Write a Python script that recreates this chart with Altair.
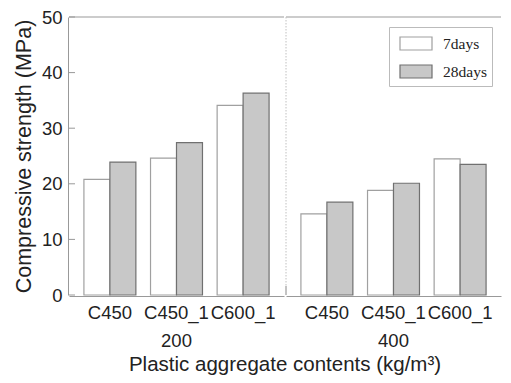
import altair as alt
import pandas as pd

mixes = ["C450", "C450_1", "C600_1"]
contents = ["200", "400"]
ages = ["7days", "28days"]
days7 = [20.8, 24.6, 34.1, 14.6, 18.8, 24.5]
days28 = [23.9, 27.4, 36.3, 16.7, 20.1, 23.5]
y_ticks = [0, 10, 20, 30, 40, 50]

rows = []
for i, c in enumerate(contents):
    for j, m in enumerate(mixes):
        k = i * 3 + j
        rows.append({"content": c, "mix": m, "age": "7days", "value": days7[k]})
        rows.append({"content": c, "mix": m, "age": "28days", "value": days28[k]})
df = pd.DataFrame(rows)

W = 215
H = 278
AX = "#999999"
TXT = "#222222"
YTITLE = "Compressive strength (MPa)"

yscale = alt.Scale(domain=[0, 50], nice=False, zero=True)

bars = alt.Chart().mark_bar(strokeWidth=1.2).encode(
    x=alt.X("mix:N", sort=mixes,
            scale=alt.Scale(paddingInner=0.22, paddingOuter=0.224),
            axis=alt.Axis(title=None, ticks=False, tickSize=0, labelPadding=7.5, labelAngle=0)),
    xOffset=alt.XOffset("age:N", sort=ages, scale=alt.Scale(domain=ages, paddingInner=0, paddingOuter=0)),
    y=alt.Y("value:Q", scale=yscale,
            axis=alt.Axis(values=y_ticks, title=YTITLE, ticks=False, tickSize=0, labelPadding=6,
                          titlePadding=6, grid=False)),
    fill=alt.Fill("age:N", sort=ages,
                  scale=alt.Scale(domain=ages, range=["#ffffff", "#c8c8c8"]),
                  legend=alt.Legend(
                      title=None, orient="none", legendX=320, legendY=10,
                      symbolType="M-0.524,-0.619H2.524V0.619H-0.524Z", symbolSize=441,
                      symbolStrokeColor="#777777", symbolStrokeWidth=1.2,
                      labelFont="Liberation Serif", labelFontSize=15.5, labelColor=TXT,
                      labelOffset=26, rowPadding=7, padding=5,
                      strokeColor="#bbbbbb", fillColor="#ffffff")),
    stroke=alt.Stroke("age:N", sort=ages,
                      scale=alt.Scale(domain=ages, range=["#a0a0a0", "#707070"]),
                      legend=None),
)

ticks_layer = alt.Chart().transform_aggregate(
    n="count()", groupby=["content"]
).transform_filter(
    alt.datum.content == contents[0]
).transform_calculate(
    t=str(y_ticks)
).transform_flatten(["t"]).mark_rule(color=AX, strokeWidth=1).encode(
    x=alt.value(0), x2=alt.value(6),
    y=alt.Y("t:Q", scale=yscale, title=YTITLE),
)

top_line = alt.Chart().transform_aggregate(
    n="count()", groupby=["content"]
).mark_rule(color=AX, strokeWidth=1).encode(
    x=alt.value(0), x2=alt.value(W), y=alt.value(0)
)

divider = alt.Chart().transform_aggregate(
    n="count()", groupby=["content"]
).transform_filter(
    alt.datum.content == contents[1]
).mark_rule(color="#c0c0c0", strokeWidth=1, strokeDash=[1.5, 1.5]).encode(
    x=alt.value(0), y=alt.value(0), y2=alt.value(H - 9)
)

div_tick = alt.Chart().transform_aggregate(
    n="count()", groupby=["content"]
).transform_filter(
    alt.datum.content == contents[1]
).mark_rule(color="#888888", strokeWidth=1).encode(
    x=alt.value(0), y=alt.value(H - 9), y2=alt.value(H)
)

chart = alt.layer(bars, ticks_layer, top_line, divider, div_tick, data=df).properties(
    width=W, height=H
).facet(
    column=alt.Column("content:N", sort=contents,
                      header=alt.Header(
                          title="Plastic aggregate contents (kg/m³)",
                          labelOrient="bottom", titleOrient="bottom",
                          labelFontSize=18.5, titleFontSize=20.5,
                          titleFontWeight="normal", labelColor=TXT, titleColor=TXT,
                          labelFont="Liberation Sans", titleFont="Liberation Sans",
                          labelPadding=10, titlePadding=-6)),
    spacing=0,
).properties(
    padding={"top": 0, "left": 5, "right": 0, "bottom": 0}
).configure_view(
    stroke=None
).configure_axis(
    domainColor=AX, labelColor=TXT, titleColor=TXT,
    labelFont="Liberation Sans", titleFont="Liberation Sans",
    labelFontSize=18.5, titleFontSize=21.5, titleFontWeight="normal",
)

chart.save("out.html", embed_options={"renderer": "svg", "actions": False})
